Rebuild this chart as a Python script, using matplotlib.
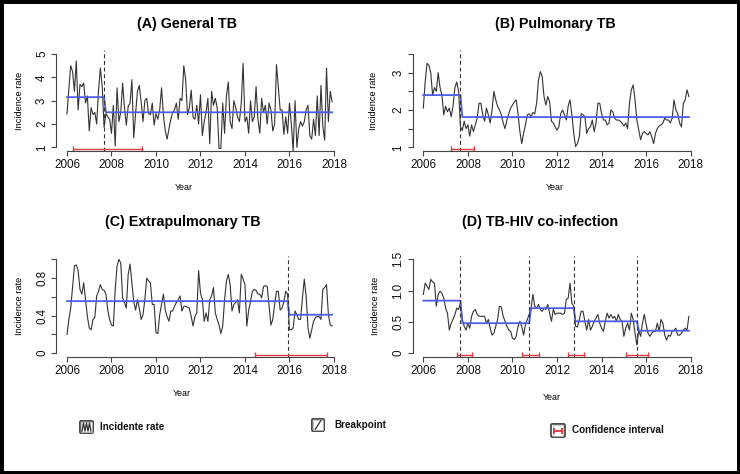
import numpy as np
import matplotlib.pyplot as plt
from matplotlib.patches import Rectangle, FancyBboxPatch

plt.rcParams['font.family'] = ['Liberation Sans', 'DejaVu Sans']

W, H = 740, 474

# monthly time axis, Jan 2006 - Dec 2017
years = 2006 + np.arange(144) / 12

general_tb = [
    2.43, 3.5, 4.5, 4.25, 3.4, 4.7, 2.6, 3.7, 3.6, 3.75, 2.9, 3.2,
    1.7, 2.7, 2.4, 2.5, 2.0, 3.45, 4.4, 3.6, 1.85, 2.45, 2.3, 2.2,
    1.6, 2.8, 1.05, 3.55, 2.1, 2.5, 3.75, 2.7, 1.95, 2.75, 2.9, 3.9,
    1.4, 2.45, 3.4, 3.65, 2.95, 2.1, 3.0, 3.1, 2.45, 2.4, 2.9, 1.95,
    2.45, 2.2, 2.6, 3.55, 2.4, 1.7, 1.35, 1.8, 2.2, 2.5, 2.6, 2.9,
    2.2, 3.1, 3.0, 4.5, 3.9, 2.4, 2.7, 3.45, 2.3, 2.2, 2.8, 2.0,
    3.25, 1.5, 2.1, 2.5, 3.1, 1.15, 3.4, 2.8, 3.1, 2.7, 0.95, 0.95,
    2.9, 1.6, 3.2, 3.8, 2.1, 1.8, 3.0, 2.7, 2.3, 2.1, 2.9, 4.6,
    2.1, 2.3, 1.6, 3.0, 2.1, 2.3, 3.6, 2.2, 1.6, 3.1, 2.5, 2.8,
    2.0, 2.9, 2.6, 1.7, 2.0, 4.55, 3.6, 2.6, 2.6, 1.55, 2.3, 1.6,
    2.9, 2.0, 0.85, 3.0, 1.0, 1.8, 2.1, 1.9, 2.1, 2.6, 2.8, 1.5,
    1.35, 2.2, 1.5, 3.2, 1.5, 3.65, 1.9, 1.3, 4.4, 2.1, 3.4, 2.95,
]
pulmonary_tb = [
    2.05, 2.75, 3.25, 3.2, 3.0, 2.4, 2.6, 2.5, 3.0, 2.6, 2.4, 1.87,
    2.1, 1.95, 2.05, 1.82, 2.1, 2.6, 2.75, 2.5, 1.55, 1.45, 1.7, 1.5,
    1.6, 1.3, 1.6, 1.42, 1.6, 1.78, 2.18, 2.18, 1.87, 1.7, 2.05, 1.87,
    1.65, 2.0, 2.5, 2.27, 2.1, 2.0, 1.87, 1.65, 1.5, 1.73, 1.9, 2.05,
    2.13, 2.22, 2.27, 1.9, 1.42, 1.1, 1.37, 1.6, 1.87, 1.9, 1.82, 1.93,
    1.9, 2.18, 2.8, 3.03, 2.9, 2.36, 2.13, 2.36, 2.22, 1.7, 1.65, 1.55,
    1.46, 1.55, 1.9, 2.0, 1.87, 1.73, 2.1, 2.27, 1.87, 1.37, 1.02, 1.1,
    1.28, 1.9, 1.87, 1.82, 1.37, 1.5, 1.55, 1.73, 1.42, 1.65, 2.18, 2.18,
    1.9, 1.73, 1.73, 1.6, 1.65, 2.0, 1.95, 1.78, 1.73, 1.73, 1.7, 1.65,
    1.57, 1.65, 1.5, 2.18, 2.54, 2.67, 2.27, 1.73, 1.46, 1.2, 1.37, 1.42,
    1.37, 1.33, 1.42, 1.28, 1.1, 1.37, 1.5, 1.57, 1.6, 1.65, 1.78, 1.73,
    1.73, 1.65, 1.78, 2.27, 2.0, 1.9, 1.65, 1.55, 2.18, 2.27, 2.54, 2.36,
]
extrapulmonary_tb = [
    0.2, 0.36, 0.48, 0.71, 0.93, 0.94, 0.88, 0.68, 0.63, 0.75, 0.57, 0.39,
    0.27, 0.25, 0.36, 0.38, 0.61, 0.66, 0.73, 0.68, 0.67, 0.63, 0.46, 0.36,
    0.3, 0.29, 0.68, 0.93, 1.0, 0.96, 0.59, 0.54, 0.48, 0.84, 0.95, 0.75,
    0.55, 0.46, 0.57, 0.48, 0.36, 0.41, 0.57, 0.8, 0.77, 0.75, 0.52, 0.52,
    0.22, 0.21, 0.41, 0.52, 0.63, 0.46, 0.39, 0.34, 0.45, 0.45, 0.5, 0.54,
    0.57, 0.61, 0.45, 0.5, 0.5, 0.49, 0.48, 0.39, 0.29, 0.39, 0.43, 0.88,
    0.64, 0.57, 0.34, 0.43, 0.34, 0.57, 0.61, 0.7, 0.43, 0.36, 0.3, 0.21,
    0.29, 0.57, 0.77, 0.84, 0.73, 0.45, 0.52, 0.54, 0.57, 0.43, 0.84, 0.79,
    0.73, 0.29, 0.46, 0.55, 0.66, 0.68, 0.67, 0.63, 0.63, 0.59, 0.71, 0.72,
    0.71, 0.5, 0.3, 0.36, 0.52, 0.66, 0.66, 0.46, 0.48, 0.55, 0.66, 0.63,
    0.25, 0.25, 0.27, 0.45, 0.41, 0.36, 0.36, 0.59, 0.79, 0.61, 0.27, 0.16,
    0.25, 0.34, 0.38, 0.39, 0.39, 0.36, 0.68, 0.7, 0.73, 0.41, 0.3, 0.29,
]
tb_hiv = [
    0.94, 1.12, 1.07, 1.02, 1.18, 1.14, 1.12, 0.75, 0.94, 0.99, 0.96, 0.88,
    0.72, 0.64, 0.37, 0.48, 0.54, 0.62, 0.72, 0.7, 0.8, 0.54, 0.43, 0.37,
    0.48, 0.4, 0.59, 0.67, 0.7, 0.62, 0.59, 0.59, 0.59, 0.59, 0.48, 0.54,
    0.4, 0.29, 0.32, 0.43, 0.54, 0.75, 0.74, 0.59, 0.51, 0.43, 0.37, 0.35,
    0.24, 0.22, 0.27, 0.43, 0.51, 0.43, 0.29, 0.46, 0.54, 0.62, 0.72, 0.94,
    0.75, 0.72, 0.78, 0.7, 0.67, 0.72, 0.7, 0.78, 0.64, 0.51, 0.7, 0.62,
    0.64, 0.64, 0.64, 0.62, 0.64, 0.86, 0.88, 1.12, 0.8, 0.75, 0.43, 0.42,
    0.54, 0.67, 0.67, 0.51, 0.37, 0.54, 0.37, 0.43, 0.51, 0.56, 0.62, 0.48,
    0.4, 0.35, 0.51, 0.64, 0.56, 0.62, 0.56, 0.59, 0.51, 0.62, 0.54, 0.51,
    0.27, 0.4, 0.48, 0.37, 0.64, 0.54, 0.32, 0.13, 0.37, 0.27, 0.48, 0.62,
    0.46, 0.32, 0.27, 0.32, 0.35, 0.35, 0.48, 0.35, 0.54, 0.48, 0.29, 0.21,
    0.29, 0.27, 0.35, 0.37, 0.4, 0.29, 0.29, 0.32, 0.37, 0.4, 0.37, 0.59,
]

# breakpoints (month index), segment means and confidence intervals
breaks_a, levels_a, ci_a = [20], [3.15, 2.5], [(2006.25, 2009.37)]
breaks_b, levels_b, ci_b = [20], [2.4, 1.81], [(2007.24, 2008.26)]
breaks_c, levels_c, ci_c = [119], [0.555, 0.41], [(2014.44, 2017.70)]
breaks_d = [20, 57, 81, 115]
levels_d = [0.84, 0.48, 0.72, 0.51, 0.36]
ci_d = [(2007.50, 2008.17), (2010.45, 2011.19), (2012.51, 2013.19), (2015.10, 2016.10)]

titles = ['(A) General TB', '(B) Pulmonary TB', '(C) Extrapulmonary TB', '(D) TB-HIV co-infection']

fig = plt.figure(figsize=(W / 100, H / 100), dpi=100)


def px(x, y):
    return x / W, 1 - y / H


panels = [
    # data, breaks, levels, ci, ylim, yticks, tick labels, axes box (px), title pos, xlabel pos, ylabel x
    (general_tb, breaks_a, levels_a, ci_a, (1, 5), [1, 2, 3, 4, 5], ['1', '2', '3', '4', '5'],
     (56.4, 50.3, 342.7, 151.0), (187, 24), (184, 188), 19),
    (pulmonary_tb, breaks_b, levels_b, ci_b, (1, 3.5), [1, 1.5, 2, 2.5, 3, 3.5], ['1', '', '2', '', '3', ''],
     (412.7, 50.3, 699.5, 151.0), (555, 24), (555, 188), 374),
    (extrapulmonary_tb, breaks_c, levels_c, ci_c, (0, 1), [0, 0.2, 0.4, 0.6, 0.8, 1.0], ['0', '', '0.4', '', '0.8', ''],
     (56.4, 255.6, 342.7, 357.0), (183, 222), (182, 393), 20),
    (tb_hiv, breaks_d, levels_d, ci_d, (0, 1.5), [0, 0.5, 1.0, 1.5], ['0', '0.5', '1.0', '1.5'],
     (412.7, 255.6, 699.5, 357.0), (540, 222), (552, 398), 375),
]

for i, (vals, brk, lev, ci, ylim, yt, ytl, box, tpos, xlpos, ylx) in enumerate(panels):
    x0, y0, x1, y1 = box
    ax = fig.add_axes([x0 / W, 1 - y1 / H, (x1 - x0) / W, (y1 - y0) / H])
    span = years[-1] - years[0]
    ax.set_xlim(years[0] - 0.04 * span, years[-1] + 0.04 * span)
    ypad = 0.04 * (ylim[1] - ylim[0])
    ax.set_ylim(ylim[0] - ypad, ylim[1] + ypad)

    ax.plot(years, vals, color='#333333', lw=0.8)
    seg = np.diff([0] + [b + 1 for b in brk] + [len(vals)])
    fitted = np.repeat(lev, seg)
    ax.plot(years, fitted, color='#4d5ceb', lw=1.3)
    for b in brk:
        ax.axvline(years[b], color='#333333', lw=0.8, ls=(0, (3.5, 2.5)))
    lo, hi = ax.get_ylim()
    ci_y = lo + (hi - lo) / 1.08 * 0.02
    for (c0, c1), b in zip(ci, brk):
        bp = years[b]
        ax.errorbar([bp], [ci_y], xerr=[[bp - c0], [c1 - bp]], fmt='none',
                    ecolor='#e0393e', elinewidth=1.0, capsize=2.5, capthick=1.0)

    for s in ['top', 'right']:
        ax.spines[s].set_visible(False)
    for s in ['left', 'bottom']:
        ax.spines[s].set_color('#444444')
        ax.spines[s].set_linewidth(0.8)
    ax.spines['bottom'].set_bounds(2006, 2018)
    ax.spines['left'].set_bounds(yt[0], yt[-1])
    ax.set_xticks(range(2006, 2019, 2))
    ax.set_yticks(yt)
    ax.set_yticklabels(ytl, rotation=90, va='center')
    ax.tick_params(direction='out', length=3.5, width=0.8, color='#444444',
                   labelsize=8.4, pad=2.5, labelcolor='#111111')
    ax.patch.set_alpha(0)

    tx, ty = px(*tpos)
    fig.text(tx, ty, titles[i], ha='center', va='center', fontsize=10.3, fontweight='bold')
    lx, ly = px(*xlpos)
    fig.text(lx, ly, 'Year', ha='center', va='center', fontsize=6.4)
    yx, yy = px(ylx, (y0 + y1) / 2)
    fig.text(yx, yy, 'Incidence rate', ha='center', va='center', rotation=90, fontsize=6.7)

# legend row at the bottom
leg_font = dict(fontsize=7.1, fontweight='bold', ha='left', va='center', color='#111111')
icons = [((79, 420, 15, 14), 'wave'), ((311, 418, 14, 14), 'slash'), ((550, 423, 16, 15), 'ci')]
labels = ['Incidente rate', 'Breakpoint', 'Confidence interval']
text_pos = [(100, 427), (334, 425), (572, 430)]

for ((ix, iy, iw, ih), kind), lab, tp in zip(icons, labels, text_pos):
    iax = fig.add_axes([ix / W, 1 - (iy + ih) / H, iw / W, ih / H])
    iax.set_xlim(0, 1)
    iax.set_ylim(0, 1)
    iax.axis('off')
    iax.add_patch(FancyBboxPatch((0.06, 0.06), 0.88, 0.88, boxstyle='round,pad=0,rounding_size=0.1',
                                 fc='white', ec='#4a4a4a', lw=1.3))
    iax.add_patch(FancyBboxPatch((0.16, 0.16), 0.68, 0.68, boxstyle='square,pad=0',
                                 fc='none', ec='#bdbdbd', lw=0.6))
    if kind == 'wave':
        iax.plot([0.2, 0.3, 0.4, 0.5, 0.6, 0.7, 0.8], [0.2, 0.8, 0.2, 0.8, 0.2, 0.8, 0.2],
                 color='#333333', lw=0.9)
    elif kind == 'slash':
        iax.plot([0.3, 0.7], [0.2, 0.8], color='#333333', lw=0.9)
    else:
        iax.errorbar([0.5], [0.5], xerr=[[0.28], [0.28]], fmt='none', ecolor='#e8202a',
                     elinewidth=1.2, capsize=2.2, capthick=1.2)
    tx, ty = px(*tp)
    fig.text(tx, ty, lab, **leg_font)

# black frame around the figure
fig.patches.append(Rectangle((0, 0), 1, 1, transform=fig.transFigure, fill=False,
                             ec='black', lw=5, figure=fig))
fig.patches.append(Rectangle((1 - 3 / W, 0), 3 / W, 1, transform=fig.transFigure,
                             fc='black', ec='none', figure=fig))

plt.savefig('out.png', dpi=100)
